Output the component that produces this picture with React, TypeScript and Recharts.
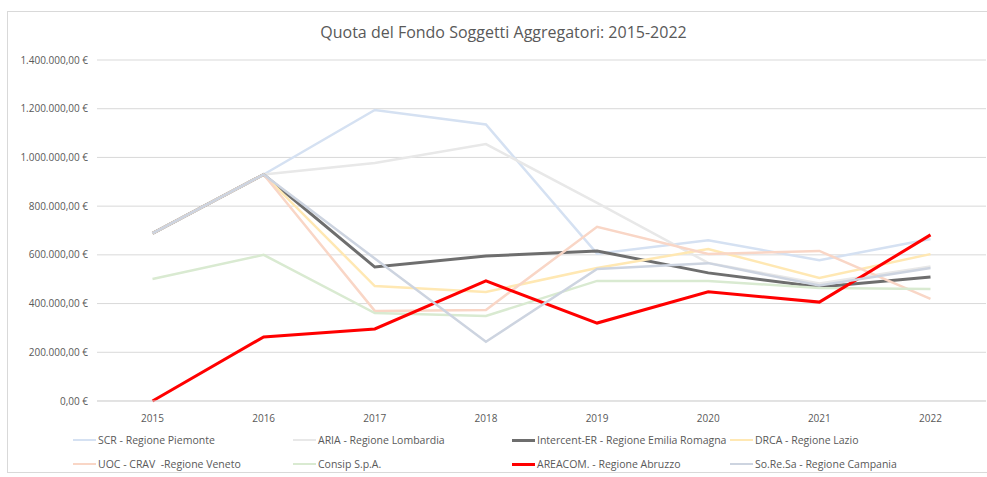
import { LineChart, Line, XAxis, YAxis, CartesianGrid } from "recharts";

const YEARS = ["2015", "2016", "2017", "2018", "2019", "2020", "2021", "2022"];

const SCR = [688000, 930000, 1195000, 1135000, 605000, 660000, 578000, 665000];
const ARIA = [688000, 930000, 977000, 1055000, 813000, 567000, 482000, 552000];
const INTERCENT = [688000, 930000, 550000, 595000, 616000, 526000, 468000, 509000];
const DRCA = [688000, 930000, 472000, 448000, 546000, 624000, 505000, 603000];
const UOC = [688000, 930000, 370000, 374000, 715000, 604000, 616000, 419000];
const CONSIP = [501000, 600000, 361000, 349000, 493000, 493000, 464000, 460000];
const AREACOM = [0, 263000, 296000, 493000, 320000, 448000, 406000, 682000];
const SORESA = [688000, 930000, 585000, 243000, 542000, 566000, 474000, 546000];

const Y_TICKS = [0, 200000, 400000, 600000, 800000, 1000000, 1200000, 1400000];

const SERIES = [
  { key: "scr", name: "SCR - Regione Piemonte", values: SCR, color: "#d5e1f2", width: 2.5 },
  { key: "aria", name: "ARIA - Regione Lombardia", values: ARIA, color: "#e8e8e8", width: 2.5 },
  { key: "intercent", name: "Intercent-ER - Regione Emilia Romagna", values: INTERCENT, color: "#6e6e6e", width: 3 },
  { key: "drca", name: "DRCA - Regione Lazio", values: DRCA, color: "#ffe8b3", width: 2.5 },
  { key: "uoc", name: "UOC - CRAV  -Regione Veneto", values: UOC, color: "#f9d6c6", width: 2.5 },
  { key: "consip", name: "Consip S.p.A.", values: CONSIP, color: "#d9ead1", width: 2.5 },
  { key: "areacom", name: "AREACOM. - Regione Abruzzo", values: AREACOM, color: "#ff0000", width: 3 },
  { key: "soresa", name: "So.Re.Sa - Regione Campania", values: SORESA, color: "#cdd4e0", width: 2.5 },
];

const data = YEARS.map((year, i) => {
  const row: Record<string, string | number> = { year };
  SERIES.forEach((s) => {
    row[s.key] = s.values[i];
  });
  return row;
});

// 1400000 -> "1.400.000,00 €"
function euro(v: number): string {
  const int = Math.round(v).toString().replace(/\B(?=(\d{3})+(?!\d))/g, ".");
  return `${int},00 €`;
}

const FONT = "'Open Sans', 'Noto Sans', sans-serif";
const LEGEND_X = [73, 293, 512, 730];

export default function App() {
  return (
    <div
      style={{
        position: "absolute",
        left: 0,
        top: 0,
        width: 987,
        height: 477,
        overflow: "hidden",
        background: "#fff",
        fontFamily: FONT,
      }}
    >
      {/* chart frame */}
      <div
        style={{
          position: "absolute",
          left: 7,
          top: 11,
          width: 990,
          height: 460,
          border: "1px solid #d9d9d9",
        }}
      />
      <div
        style={{
          position: "absolute",
          top: 21,
          left: 0,
          width: 1007,
          textAlign: "center",
          fontSize: 16,
          color: "#595959",
        }}
      >
        Quota del Fondo Soggetti Aggregatori: 2015-2022
      </div>

      <div style={{ position: "absolute", left: 0, top: 0 }}>
        <LineChart
          width={987}
          height={477}
          data={data}
          margin={{ top: 60, right: 1, left: 0, bottom: 46 }}
        >
          <CartesianGrid vertical={false} stroke="#d9d9d9" strokeWidth={1} />
          <XAxis
            dataKey="year"
            height={30}
            padding={{ left: 55.5, right: 55.5 }}
            tickLine={false}
            axisLine={{ stroke: "#d9d9d9" }}
            tick={{ fontSize: 10, fill: "#595959", fontFamily: FONT }}
            tickMargin={8}
          />
          <YAxis
            width={97}
            domain={[0, 1400000]}
            ticks={Y_TICKS}
            tickFormatter={euro}
            tickLine={false}
            axisLine={false}
            tickSize={0}
            tickMargin={9}
            tick={{ fontSize: 10, fill: "#595959", fontFamily: FONT }}
          />
          {SERIES.map((s) => (
            <Line
              key={s.key}
              type="linear"
              dataKey={s.key}
              name={s.name}
              stroke={s.color}
              strokeWidth={s.width}
              dot={false}
              activeDot={false}
              isAnimationActive={false}
            />
          ))}
        </LineChart>
      </div>

      {/* Legend */}
      {SERIES.map((s, i) => {
        const col = i % 4;
        const row = Math.floor(i / 4);
        return (
          <div
            key={s.key}
            style={{
              position: "absolute",
              left: LEGEND_X[col],
              top: 432 + row * 24,
              height: 16,
              display: "flex",
              alignItems: "center",
              fontSize: 10.5,
              color: "#595959",
              whiteSpace: "pre",
            }}
          >
            <span
              style={{
                display: "inline-block",
                width: 23,
                height: s.width,
                background: s.color,
                marginRight: 2,
              }}
            />
            {s.name}
          </div>
        );
      })}
    </div>
  );
}
